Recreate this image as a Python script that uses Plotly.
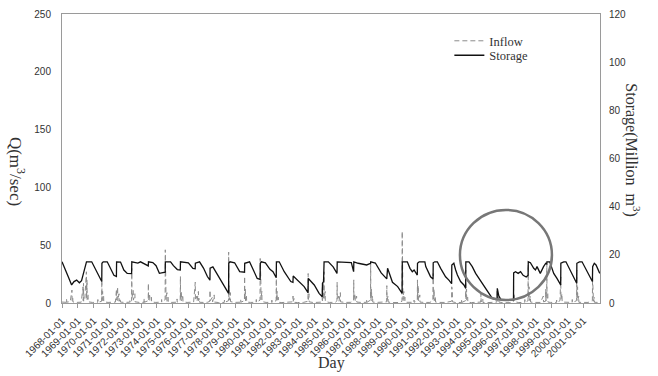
import plotly.graph_objects as go

# ---------------- data ----------------
years = list(range(1968, 2002))
tick_values = [f"{y}-01-01" for y in years]
tick_labels = [f"{y}-01-01" for y in years]

# Daily inflow Q (m3/sec), left axis -- (date, value)
inflow_1968_1979 = [
    ("1968-01-01", 0.8), ("1968-04-12", 0.6), ("1968-04-16", 3.5), ("1968-04-20", 0.7), ("1968-07-10", 1.2),
    ("1968-07-22", 6.5), ("1968-07-26", 1.5), ("1968-08-18", 11.2), ("1968-08-22", 2.0), ("1968-09-05", 4.5),
    ("1968-09-10", 0.9), ("1968-11-20", 0.5),
    ("1969-03-20", 0.7), ("1969-05-02", 14.0), ("1969-05-06", 2.0), ("1969-05-12", 17.0), ("1969-05-16", 1.5),
    ("1969-06-10", 2.5), ("1969-07-18", 27.0), ("1969-07-22", 4.0), ("1969-08-01", 20.0), ("1969-08-05", 3.0),
    ("1969-08-25", 7.0), ("1969-08-30", 1.0), ("1969-12-01", 0.5),
    ("1970-04-05", 0.6), ("1970-04-09", 3.0), ("1970-04-13", 0.6), ("1970-07-04", 1.5), ("1970-07-10", 20.0),
    ("1970-07-14", 3.5), ("1970-07-28", 10.0), ("1970-08-01", 2.0), ("1970-08-20", 6.0), ("1970-08-24", 1.0),
    ("1970-12-01", 0.5),
    ("1971-05-20", 0.8), ("1971-06-14", 12.0), ("1971-06-18", 2.5), ("1971-07-10", 14.0), ("1971-07-14", 2.0),
    ("1971-08-10", 8.0), ("1971-08-14", 1.5), ("1971-09-10", 4.0), ("1971-09-14", 0.8), ("1971-12-15", 0.5),
    ("1972-04-15", 0.7), ("1972-04-19", 2.5), ("1972-04-23", 0.7), ("1972-05-28", 2.0), ("1972-06-01", 30.0),
    ("1972-06-05", 4.0), ("1972-07-05", 11.0), ("1972-07-09", 2.5), ("1972-08-12", 8.0), ("1972-08-16", 1.0),
    ("1972-11-25", 0.5),
    ("1973-03-10", 0.6), ("1973-03-14", 4.0), ("1973-03-18", 0.6), ("1973-06-16", 2.0), ("1973-06-20", 17.0),
    ("1973-06-24", 2.5), ("1973-07-20", 8.0), ("1973-07-24", 2.0), ("1973-08-30", 5.0), ("1973-09-03", 0.8),
    ("1973-12-10", 0.5),
    ("1974-04-18", 0.8), ("1974-04-22", 3.0), ("1974-04-26", 0.7), ("1974-07-12", 3.0), ("1974-07-16", 46.0),
    ("1974-07-20", 5.0), ("1974-07-30", 12.0), ("1974-08-03", 3.0), ("1974-08-22", 9.0), ("1974-08-26", 1.5),
    ("1974-09-20", 5.0), ("1974-09-24", 0.8), ("1974-12-01", 0.5),
    ("1975-04-10", 0.7), ("1975-04-14", 3.5), ("1975-04-18", 0.7), ("1975-06-26", 2.0), ("1975-07-01", 23.0),
    ("1975-07-05", 3.0), ("1975-07-22", 10.0), ("1975-07-26", 2.0), ("1975-08-25", 7.0), ("1975-08-29", 1.0),
    ("1975-12-01", 0.5),
    ("1976-05-01", 0.8), ("1976-06-08", 18.0), ("1976-06-12", 2.5), ("1976-07-15", 6.0), ("1976-07-19", 1.5),
    ("1976-08-20", 10.0), ("1976-08-24", 2.0), ("1976-09-12", 4.0), ("1976-09-16", 0.6), ("1976-12-10", 0.5),
    ("1977-03-15", 0.6), ("1977-05-12", 1.5), ("1977-05-15", 11.0), ("1977-05-19", 2.0), ("1977-07-10", 5.0),
    ("1977-07-14", 1.0), ("1977-08-20", 7.0), ("1977-08-24", 0.8), ("1977-12-01", 0.4),
    ("1978-04-10", 0.5), ("1978-04-14", 2.5), ("1978-04-18", 0.5), ("1978-07-16", 2.0), ("1978-07-20", 44.0),
    ("1978-07-24", 5.0), ("1978-08-05", 15.0), ("1978-08-09", 2.5), ("1978-08-28", 9.0), ("1978-09-01", 1.2),
    ("1978-12-01", 0.5),
    ("1979-04-20", 0.7), ("1979-04-24", 3.0), ("1979-04-28", 0.7), ("1979-07-20", 2.0), ("1979-07-24", 23.0),
    ("1979-07-28", 3.0), ("1979-08-10", 12.0), ("1979-08-14", 2.0), ("1979-09-05", 6.0), ("1979-09-09", 0.8),
    ("1979-12-10", 0.5),
]
inflow_1980_1989 = [
    ("1980-04-15", 0.6), ("1980-04-19", 3.0), ("1980-04-23", 0.6), ("1980-07-14", 2.5), ("1980-07-18", 38.5),
    ("1980-07-22", 4.0), ("1980-08-02", 20.0), ("1980-08-06", 3.0), ("1980-08-25", 10.0), ("1980-08-29", 1.2),
    ("1980-12-01", 0.5),
    ("1981-04-10", 0.6), ("1981-04-14", 2.5), ("1981-04-18", 0.6), ("1981-07-22", 2.0), ("1981-07-26", 21.0),
    ("1981-07-30", 3.0), ("1981-08-15", 10.0), ("1981-08-19", 1.5), ("1981-09-10", 5.0), ("1981-09-14", 0.6),
    ("1981-12-01", 0.4),
    ("1982-05-10", 0.5), ("1982-08-12", 1.0), ("1982-08-16", 6.0), ("1982-08-20", 1.5), ("1982-09-05", 4.0),
    ("1982-09-09", 0.6), ("1982-12-01", 0.4),
    ("1983-04-10", 0.5), ("1983-07-28", 1.5), ("1983-08-01", 25.5), ("1983-08-05", 3.0), ("1983-08-20", 8.0),
    ("1983-08-24", 1.0), ("1983-12-01", 0.4),
    ("1984-04-15", 0.4), ("1984-06-20", 0.8), ("1984-06-24", 14.0), ("1984-06-28", 2.0), ("1984-07-20", 21.0),
    ("1984-07-24", 3.0), ("1984-08-02", 27.0), ("1984-08-06", 4.0), ("1984-08-28", 10.0), ("1984-09-01", 1.2),
    ("1984-12-01", 0.5),
    ("1985-04-20", 0.6), ("1985-05-28", 2.0), ("1985-06-01", 18.0), ("1985-06-05", 2.5), ("1985-07-10", 6.0),
    ("1985-07-14", 1.5), ("1985-08-15", 9.0), ("1985-08-19", 1.0), ("1985-12-01", 0.5),
    ("1986-04-15", 0.6), ("1986-06-16", 2.0), ("1986-06-20", 20.0), ("1986-06-24", 3.0), ("1986-07-20", 8.0),
    ("1986-07-24", 1.5), ("1986-08-25", 6.0), ("1986-08-29", 0.8), ("1986-12-01", 0.5),
    ("1987-04-12", 0.6), ("1987-04-16", 3.0), ("1987-04-20", 0.6), ("1987-07-12", 2.5), ("1987-07-16", 34.0),
    ("1987-07-20", 4.0), ("1987-08-05", 12.0), ("1987-08-09", 2.0), ("1987-08-30", 6.0), ("1987-09-03", 0.8),
    ("1987-12-01", 0.5),
    ("1988-04-20", 0.5), ("1988-07-20", 1.0), ("1988-07-24", 15.0), ("1988-07-28", 2.0), ("1988-08-20", 6.0),
    ("1988-08-24", 0.8), ("1988-12-01", 0.4),
    ("1989-04-15", 0.4), ("1989-07-10", 1.5), ("1989-07-14", 62.0), ("1989-07-18", 5.0), ("1989-07-28", 18.0),
    ("1989-08-01", 3.0), ("1989-08-20", 10.0), ("1989-08-24", 1.5), ("1989-09-15", 5.0), ("1989-09-19", 0.6),
    ("1989-12-01", 0.5),
]
inflow_1990_2001 = [
    ("1990-04-10", 0.6), ("1990-04-14", 2.5), ("1990-04-18", 0.6), ("1990-06-28", 2.0), ("1990-07-02", 20.0),
    ("1990-07-06", 3.0), ("1990-07-20", 15.0), ("1990-07-24", 2.0), ("1990-08-25", 7.0), ("1990-08-29", 0.8),
    ("1990-12-01", 0.5),
    ("1991-04-15", 0.5), ("1991-06-26", 2.0), ("1991-06-30", 25.5), ("1991-07-04", 3.5), ("1991-07-22", 12.0),
    ("1991-07-26", 2.0), ("1991-08-20", 6.0), ("1991-08-24", 0.8), ("1991-12-01", 0.5),
    ("1992-04-20", 0.5), ("1992-08-28", 1.5), ("1992-09-01", 14.0), ("1992-09-05", 2.0), ("1992-09-15", 11.0),
    ("1992-09-19", 1.0), ("1992-12-01", 0.4),
    ("1993-04-15", 0.5), ("1993-04-19", 3.0), ("1993-04-23", 0.5), ("1993-07-18", 2.0), ("1993-07-22", 28.5),
    ("1993-07-26", 3.5), ("1993-08-10", 12.0), ("1993-08-14", 2.0), ("1993-09-05", 5.0), ("1993-09-09", 0.6),
    ("1993-12-01", 0.4),
    ("1994-04-20", 0.4), ("1994-07-05", 0.8), ("1994-07-09", 8.0), ("1994-07-13", 1.0), ("1994-08-20", 4.0),
    ("1994-08-24", 0.5), ("1994-12-01", 0.3),
    ("1995-04-20", 0.3), ("1995-07-12", 0.8), ("1995-07-16", 10.0), ("1995-07-20", 1.0), ("1995-08-25", 5.5),
    ("1995-08-29", 0.8), ("1995-12-01", 0.3),
    ("1996-04-20", 0.3), ("1996-07-28", 1.0), ("1996-08-01", 15.0), ("1996-08-05", 2.0), ("1996-08-20", 8.0),
    ("1996-08-24", 1.0), ("1996-12-01", 0.4),
    ("1997-04-15", 0.5), ("1997-04-19", 3.0), ("1997-04-23", 0.5), ("1997-07-01", 2.0), ("1997-07-05", 33.0),
    ("1997-07-09", 4.0), ("1997-07-25", 14.0), ("1997-07-29", 2.0), ("1997-08-25", 6.0), ("1997-08-29", 0.8),
    ("1997-12-01", 0.5),
    ("1998-04-15", 0.5), ("1998-06-20", 6.0), ("1998-06-24", 1.0), ("1998-08-10", 1.5), ("1998-08-14", 12.0),
    ("1998-08-18", 2.0), ("1998-09-05", 2.5), ("1998-09-09", 34.0), ("1998-09-13", 4.0), ("1998-10-01", 8.0),
    ("1998-10-05", 0.8), ("1998-12-01", 0.5),
    ("1999-04-20", 0.5), ("1999-04-24", 2.5), ("1999-04-28", 0.5), ("1999-07-10", 2.0), ("1999-07-14", 17.0),
    ("1999-07-18", 2.5), ("1999-07-28", 22.5), ("1999-08-01", 3.0), ("1999-08-25", 8.0), ("1999-08-29", 0.8),
    ("1999-12-01", 0.5),
    ("2000-04-15", 0.5), ("2000-04-19", 3.0), ("2000-04-23", 0.5), ("2000-07-28", 2.0), ("2000-08-01", 28.5),
    ("2000-08-05", 3.5), ("2000-08-20", 14.0), ("2000-08-24", 2.0), ("2000-09-15", 6.0), ("2000-09-19", 0.6),
    ("2000-12-01", 0.5),
    ("2001-04-20", 0.5), ("2001-07-28", 2.0), ("2001-08-01", 22.5), ("2001-08-05", 3.0), ("2001-08-15", 9.0),
    ("2001-08-19", 1.5), ("2001-09-10", 5.0), ("2001-09-14", 0.6), ("2001-12-31", 0.5),
]

# Reservoir storage (million m3), right axis -- (date, value)
storage_1968_1979 = [
    ("1968-01-01", 17.1), ("1968-03-10", 14.4), ("1968-05-25", 10.9), ("1968-08-10", 7.5), ("1968-10-05", 8.9),
    ("1968-12-05", 9.5), ("1969-02-05", 8.4), ("1969-03-28", 9.3), ("1969-05-12", 12.3), ("1969-06-20", 14.4),
    ("1969-07-20", 17.1), ("1969-11-18", 17.1), ("1970-02-03", 14.4), ("1970-04-20", 11.2), ("1970-07-08", 8.9),
    ("1970-07-12", 16.5), ("1970-08-10", 17.1), ("1970-11-12", 17.1), ("1971-01-30", 14.4), ("1971-04-15", 11.5),
    ("1971-06-12", 11.0), ("1971-06-16", 17.1), ("1971-09-15", 17.0), ("1971-12-01", 13.7), ("1972-02-17", 12.3),
    ("1972-05-28", 12.2), ("1972-06-02", 17.1), ("1972-08-10", 17.0), ("1972-10-20", 16.6), ("1972-12-20", 17.1),
    ("1973-03-15", 16.4), ("1973-06-18", 15.4), ("1973-06-22", 17.1), ("1973-10-01", 16.8), ("1973-12-15", 15.5),
    ("1974-03-01", 12.3), ("1974-07-14", 12.8), ("1974-07-17", 17.1), ("1974-11-15", 17.1), ("1975-01-20", 15.5),
    ("1975-04-20", 13.9), ("1975-06-28", 13.7), ("1975-07-02", 17.1), ("1975-12-31", 16.7), ("1976-04-15", 14.4),
    ("1976-06-06", 14.2), ("1976-06-10", 16.5), ("1976-08-20", 17.1), ("1976-09-15", 17.1), ("1976-12-15", 14.5),
    ("1977-03-15", 11.0), ("1977-05-13", 9.5), ("1977-05-17", 14.5), ("1977-07-20", 15.0), ("1977-09-01", 13.7),
    ("1977-12-31", 10.2), ("1978-04-15", 6.5), ("1978-07-18", 4.0), ("1978-07-22", 16.5), ("1978-08-20", 17.1),
    ("1978-12-05", 16.7), ("1979-04-01", 13.0), ("1979-07-22", 12.8), ("1979-07-26", 16.5), ("1979-11-15", 17.1),
]
storage_1980_1989 = [
    ("1980-02-15", 13.5), ("1980-05-10", 10.2), ("1980-07-16", 9.8), ("1980-07-20", 16.5), ("1980-08-15", 17.1),
    ("1980-11-15", 16.7), ("1981-03-01", 14.0), ("1981-05-10", 13.0), ("1981-07-24", 10.5), ("1981-07-28", 17.1),
    ("1981-10-01", 17.1), ("1982-01-25", 13.0), ("1982-06-25", 8.9), ("1982-08-14", 8.6), ("1982-08-20", 11.2),
    ("1982-11-25", 9.5), ("1983-04-30", 6.8), ("1983-07-28", 4.3), ("1983-08-04", 10.2), ("1983-12-20", 7.5),
    ("1984-04-10", 4.0), ("1984-06-22", 2.6), ("1984-06-27", 8.2), ("1984-07-22", 8.9), ("1984-08-03", 17.1),
    ("1984-11-10", 17.1), ("1985-03-01", 15.0), ("1985-05-29", 12.3), ("1985-06-03", 17.1), ("1986-04-25", 16.8),
    ("1986-06-17", 13.0), ("1986-06-22", 17.1), ("1986-10-01", 16.5), ("1987-04-15", 15.8), ("1987-07-14", 16.5),
    ("1987-07-18", 17.1), ("1987-11-01", 16.6), ("1988-03-15", 12.5), ("1988-07-22", 10.0), ("1988-08-10", 14.4),
    ("1988-12-01", 8.6), ("1989-04-01", 6.8), ("1989-07-12", 4.0), ("1989-07-16", 17.1), ("1989-11-10", 17.1),
]
storage_1990_2002 = [
    ("1990-01-10", 14.4), ("1990-03-05", 13.0), ("1990-04-15", 13.7), ("1990-06-28", 11.6), ("1990-07-03", 16.5),
    ("1990-08-10", 17.1), ("1990-12-20", 17.1), ("1991-01-10", 15.1), ("1991-03-25", 12.3), ("1991-05-01", 10.9),
    ("1991-06-28", 10.0), ("1991-07-01", 16.7), ("1991-08-05", 17.1), ("1991-10-05", 17.1), ("1991-12-20", 14.4),
    ("1992-03-05", 12.3), ("1992-04-12", 10.9), ("1992-06-28", 9.5), ("1992-08-30", 8.0), ("1992-09-03", 15.8),
    ("1992-10-20", 16.5), ("1992-12-01", 13.7), ("1993-01-10", 11.6), ("1993-03-25", 8.9), ("1993-06-10", 7.5),
    ("1993-07-20", 6.1), ("1993-07-24", 17.1), ("1993-10-05", 17.1), ("1993-12-20", 15.1), ("1994-03-08", 12.3),
    ("1994-05-25", 10.2), ("1994-08-10", 8.2), ("1994-10-25", 6.1), ("1995-01-10", 4.0), ("1995-03-28", 1.9),
    ("1995-06-15", 1.4), ("1995-07-18", 1.6), ("1995-07-22", 6.1), ("1995-08-25", 3.0), ("1995-10-10", 1.5),
    ("1996-01-15", 1.2), ("1996-07-30", 1.3), ("1996-08-03", 12.5), ("1996-09-15", 13.0), ("1996-11-15", 12.3),
    ("1997-01-10", 13.0), ("1997-03-10", 11.5), ("1997-05-20", 10.8), ("1997-07-03", 11.5), ("1997-07-07", 17.1),
    ("1997-08-25", 16.7), ("1997-11-10", 14.4), ("1997-12-20", 13.7), ("1998-01-25", 15.1), ("1998-04-10", 12.3),
    ("1998-06-25", 15.1), ("1998-08-15", 16.5), ("1998-09-08", 16.3), ("1998-09-11", 17.1), ("1998-11-15", 17.1),
    ("1999-02-15", 12.3), ("1999-05-01", 10.2), ("1999-07-26", 7.5), ("1999-07-30", 16.5), ("1999-10-05", 17.1),
    ("1999-11-25", 17.1), ("2000-04-10", 12.3), ("2000-07-30", 8.2), ("2000-08-03", 16.5), ("2000-10-01", 17.1),
    ("2000-12-01", 17.1), ("2001-04-15", 12.3), ("2001-07-28", 8.9), ("2001-08-03", 15.1), ("2001-09-10", 16.5),
    ("2001-10-20", 15.8), ("2002-01-15", 12.3),
]


def unzip(pairs):
    return [p[0] for p in pairs], [p[1] for p in pairs]


inflow_x, inflow_y = unzip(inflow_1968_1979 + inflow_1980_1989 + inflow_1990_2001)
storage_x, storage_y = unzip(storage_1968_1979 + storage_1980_1989 + storage_1990_2002)

SANS = "Liberation Sans, Arial, sans-serif"
SERIF = "Liberation Serif, Times New Roman, serif"
TXT = "#333333"
AX = "#9a9a9a"

fig = go.Figure()
fig.add_trace(go.Scatter(
    x=inflow_x, y=inflow_y, name="Inflow", mode="lines", showlegend=True,
    line=dict(color="#8c8c8c", width=1, dash="5px,3px"), legend="legend",
))
fig.add_trace(go.Scatter(
    x=storage_x, y=storage_y, name="Storage", mode="lines", yaxis="y2", showlegend=True,
    line=dict(color="#111111", width=1.3), legend="legend2",
))

fig.update_layout(
    width=658, height=376, showlegend=True,
    margin=dict(l=62, r=58, t=14, b=73, autoexpand=False),
    paper_bgcolor="white", plot_bgcolor="white",
    xaxis=dict(
        type="date", range=["1968-01-01", "2002-01-20"],
        tickmode="array", tickvals=tick_values, ticktext=tick_labels, tickangle=-45,
        tickfont=dict(family=SANS, size=10, color=TXT), ticklabelstandoff=3,
        showline=True, linecolor=AX, linewidth=1, mirror=True,
        ticks="outside", ticklen=4, tickcolor=AX, showgrid=False, zeroline=False,
        automargin=False,
    ),
    yaxis=dict(
        range=[0, 250], tickmode="array", tickvals=[0, 50, 100, 150, 200, 250],
        tickfont=dict(family=SANS, size=10, color=TXT), ticklabelstandoff=8,
        showline=True, linecolor=AX, linewidth=1, ticks="", showgrid=False, zeroline=False,
        automargin=False,
    ),
    yaxis2=dict(
        range=[0, 120], tickmode="array", tickvals=[0, 20, 40, 60, 80, 100, 120],
        overlaying="y", side="right",
        tickfont=dict(family=SANS, size=10, color=TXT), ticklabelstandoff=6,
        showline=True, linecolor=AX, linewidth=1, ticks="", showgrid=False, zeroline=False,
        automargin=False,
    ),
    legend=dict(x=0.72, y=0.906, xanchor="left", yanchor="middle", bgcolor="rgba(0,0,0,0)",
                borderwidth=0, font=dict(family=SERIF, size=12.5, color=TXT), visible=True),
    legend2=dict(x=0.72, y=0.856, xanchor="left", yanchor="middle", bgcolor="rgba(0,0,0,0)",
                 borderwidth=0, font=dict(family=SERIF, size=12.5, color=TXT), visible=True),
    annotations=[
        dict(text="Q(m<sup>3</sup>/sec)", xref="paper", yref="paper", x=-0.0836, y=0.457,
             textangle=90, showarrow=False, xanchor="center", yanchor="middle",
             font=dict(family=SERIF, size=17, color=TXT)),
        dict(text="Storage(Million  m<sup>3</sup>)", xref="paper", yref="paper", x=1.061, y=0.529,
             textangle=90, showarrow=False, xanchor="center", yanchor="middle",
             font=dict(family=SERIF, size=16, color=TXT)),
        dict(text="Day", xref="paper", yref="paper", x=0.5, y=-0.2076,
             showarrow=False, xanchor="center", yanchor="middle",
             font=dict(family=SERIF, size=16, color=TXT)),
    ],
    shapes=[
        dict(type="circle", xref="x", yref="y", x0="1993-03-10", x1="1999-01-05", y0=2.5, y1=80.5,
             line=dict(color="#777777", width=2.5)),
    ],
)

fig.write_html("out.html")
